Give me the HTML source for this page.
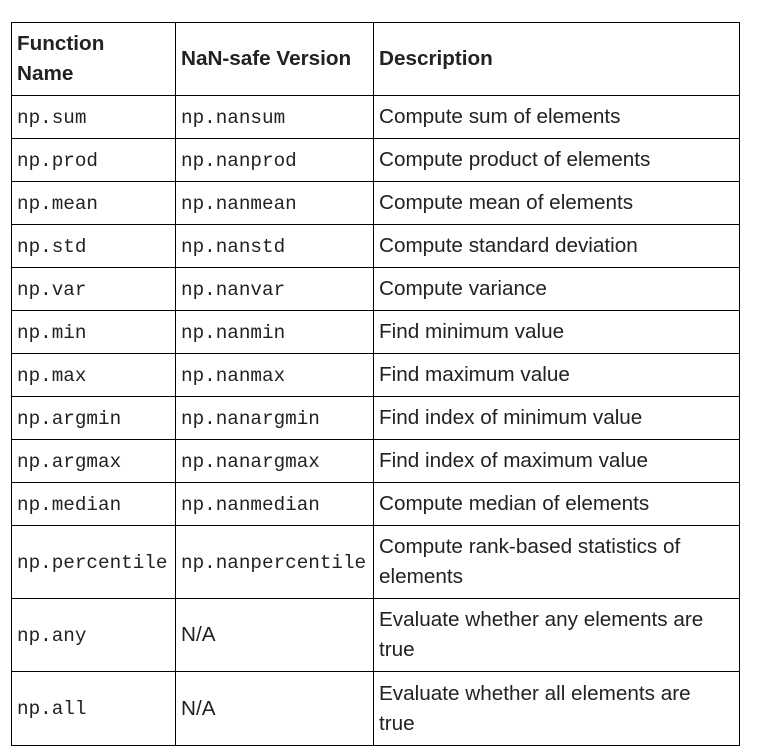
<!DOCTYPE html>
<html><head><style>
body{margin:0;background:#fff;width:764px;height:755px;overflow:hidden}
table{position:absolute;left:11px;top:22px;border-collapse:collapse;font-family:"Liberation Sans",sans-serif;font-size:20.7px;color:#222}
td,th{border:1px solid #000;padding:0 0 0 5px;text-align:left;vertical-align:middle;line-height:30px}
th{font-weight:bold}
td.m{font-family:"Liberation Mono",monospace;font-size:19.3px;padding-left:5px;padding-top:1px}
</style></head><body>
<table>
<colgroup><col style="width:164px"><col style="width:198px"><col style="width:366px"></colgroup>
<tr style="height:73px"><th>Function<br>Name</th><th>NaN-safe Version</th><th>Description</th></tr>
<tr style="height:43px"><td class="m">np.sum</td><td class="m">np.nansum</td><td>Compute sum of elements</td></tr>
<tr style="height:43px"><td class="m">np.prod</td><td class="m">np.nanprod</td><td>Compute product of elements</td></tr>
<tr style="height:43px"><td class="m">np.mean</td><td class="m">np.nanmean</td><td>Compute mean of elements</td></tr>
<tr style="height:43px"><td class="m">np.std</td><td class="m">np.nanstd</td><td>Compute standard deviation</td></tr>
<tr style="height:43px"><td class="m">np.var</td><td class="m">np.nanvar</td><td>Compute variance</td></tr>
<tr style="height:43px"><td class="m">np.min</td><td class="m">np.nanmin</td><td>Find minimum value</td></tr>
<tr style="height:43px"><td class="m">np.max</td><td class="m">np.nanmax</td><td>Find maximum value</td></tr>
<tr style="height:43px"><td class="m">np.argmin</td><td class="m">np.nanargmin</td><td>Find index of minimum value</td></tr>
<tr style="height:43px"><td class="m">np.argmax</td><td class="m">np.nanargmax</td><td>Find index of maximum value</td></tr>
<tr style="height:43px"><td class="m">np.median</td><td class="m">np.nanmedian</td><td>Compute median of elements</td></tr>
<tr style="height:73px"><td class="m">np.percentile</td><td class="m">np.nanpercentile</td><td>Compute rank-based statistics of<br>elements</td></tr>
<tr style="height:73px"><td class="m">np.any</td><td>N/A</td><td>Evaluate whether any elements are<br>true</td></tr>
<tr style="height:74px"><td class="m">np.all</td><td>N/A</td><td>Evaluate whether all elements are<br>true</td></tr>
</table>
</body></html>
